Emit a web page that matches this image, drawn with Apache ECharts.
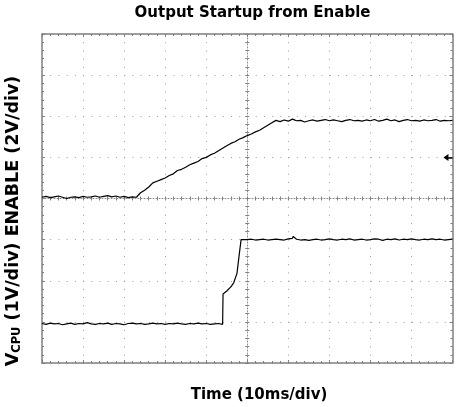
<!DOCTYPE html>
<html>
<head>
<meta charset="utf-8">
<script src="https://cdn.jsdelivr.net/npm/echarts@6/dist/echarts.min.js"></script>
<style>
html,body{margin:0;padding:0;background:#fff;}
#chart{width:458px;height:407px;}
</style>
</head>
<body>
<div id="chart"></div>
<script>
// Units: oscilloscope divisions, centred on the screen (x: -5..5, y: -4..4)
const titleText = 'Output Startup from Enable';
const xTitle = 'Time (10ms/div)';

// Upper trace (slow ramp)
const upperTrace = [
  [-5.0,0.03],[-4.9,0.05],[-4.8,0.02],[-4.7,0.04],[-4.6,0.06],[-4.5,0.03],[-4.4,0.0],[-4.3,0.03],
  [-4.2,0.04],[-4.1,0.02],[-4.0,0.05],[-3.9,0.03],[-3.8,0.04],[-3.7,0.06],[-3.6,0.03],[-3.5,0.05],
  [-3.4,0.07],[-3.3,0.04],[-3.2,0.06],[-3.1,0.03],[-3.0,0.05],[-2.9,0.02],[-2.8,0.04],[-2.7,0.03],
  [-2.6,0.14],[-2.5,0.2],[-2.4,0.28],[-2.3,0.38],[-2.2,0.42],[-2.1,0.46],[-2.0,0.5],[-1.9,0.56],
  [-1.8,0.6],[-1.7,0.68],[-1.6,0.71],[-1.5,0.76],[-1.4,0.82],[-1.3,0.86],[-1.2,0.9],[-1.1,0.97],
  [-1.0,1.0],[-0.9,1.06],[-0.8,1.1],[-0.7,1.16],[-0.6,1.22],[-0.5,1.28],[-0.4,1.34],[-0.3,1.38],
  [-0.2,1.44],[-0.1,1.48],[0.0,1.53],[0.1,1.57],[0.2,1.62],[0.3,1.66],[0.4,1.72],[0.5,1.78],
  [0.6,1.84],[0.7,1.9],[0.8,1.87],[0.9,1.91],[1.0,1.88],[1.1,1.93],[1.2,1.89],[1.3,1.9],
  [1.4,1.86],[1.5,1.89],[1.6,1.91],[1.7,1.88],[1.8,1.9],[1.9,1.92],[2.0,1.89],[2.1,1.91],
  [2.2,1.89],[2.3,1.87],[2.4,1.9],[2.5,1.92],[2.6,1.89],[2.7,1.9],[2.8,1.88],[2.9,1.91],
  [3.0,1.89],[3.1,1.92],[3.2,1.88],[3.3,1.9],[3.4,1.93],[3.5,1.89],[3.6,1.91],[3.7,1.87],
  [3.8,1.9],[3.9,1.92],[4.0,1.89],[4.1,1.9],[4.2,1.88],[4.3,1.91],[4.4,1.89],[4.5,1.9],
  [4.6,1.92],[4.7,1.88],[4.8,1.9],[4.9,1.89],[5.0,1.9]
];

// Lower trace (step)
const lowerTrace = [
  [-5.0,-3.04],[-4.9,-3.06],[-4.8,-3.03],[-4.7,-3.05],[-4.6,-3.04],[-4.5,-3.07],[-4.4,-3.05],[-4.3,-3.03],
  [-4.2,-3.06],[-4.1,-3.04],[-4.0,-3.05],[-3.9,-3.02],[-3.8,-3.05],[-3.7,-3.06],[-3.6,-3.04],[-3.5,-3.05],
  [-3.4,-3.03],[-3.3,-3.06],[-3.2,-3.04],[-3.1,-3.05],[-3.0,-3.07],[-2.9,-3.04],[-2.8,-3.03],[-2.7,-3.05],
  [-2.6,-3.04],[-2.5,-3.06],[-2.4,-3.05],[-2.3,-3.03],[-2.2,-3.05],[-2.1,-3.04],[-2.0,-3.06],[-1.9,-3.04],
  [-1.8,-3.05],[-1.7,-3.03],[-1.6,-3.05],[-1.5,-3.06],[-1.4,-3.04],[-1.3,-3.05],[-1.2,-3.03],[-1.1,-3.05],
  [-1.0,-3.04],[-0.9,-3.06],[-0.8,-3.05],[-0.7,-3.04],[-0.6,-3.06],
  [-0.59,-2.32],[-0.5,-2.25],[-0.4,-2.15],[-0.33,-2.05],[-0.25,-1.82],[-0.2,-1.4],[-0.15,-1.0],[-0.12,-0.96],
  [-0.05,-1.0],[0.0,-1.0],[0.1,-0.99],[0.2,-1.01],[0.3,-1.0],[0.4,-0.99],[0.5,-1.01],[0.6,-1.0],
  [0.7,-0.99],[0.8,-1.0],[0.9,-1.01],[1.0,-0.98],[1.1,-0.97],[1.12,-0.92],[1.2,-0.99],[1.3,-1.01],
  [1.4,-1.0],[1.5,-1.02],[1.6,-1.0],[1.7,-0.99],[1.8,-1.01],[1.9,-1.0],[2.0,-0.98],[2.1,-1.0],
  [2.2,-1.01],[2.3,-0.99],[2.4,-1.0],[2.5,-0.98],[2.6,-1.01],[2.7,-1.0],[2.8,-0.99],[2.9,-1.01],
  [3.0,-1.0],[3.1,-0.98],[3.2,-0.99],[3.3,-1.02],[3.4,-0.99],[3.5,-1.0],[3.6,-0.98],[3.7,-1.01],
  [3.8,-0.99],[3.9,-1.0],[4.0,-0.98],[4.1,-1.0],[4.2,-1.01],[4.3,-0.99],[4.4,-1.0],[4.5,-0.98],
  [4.6,-1.0],[4.7,-0.99],[4.8,-1.01],[4.9,-1.0],[5.0,-0.99]
];

// Level marker on the right edge
const levelMarker = [4.84, 1];
const levelStem = [[4.88, 1], [5, 1]];

const frameColor = '#7f7f7f';
const dotColor = '#9c9c9c';
const fontFamily = 'DejaVu Sans';

function baseX(extra) {
  return Object.assign({
    type: 'value', min: -5, max: 5, interval: 1,
    axisLabel: {show: false},
    splitLine: {show: false},
    axisTick: {show: true, inside: true, length: 3, lineStyle: {color: frameColor, width: 1}},
    minorTick: {show: true, splitNumber: 5, length: 2, lineStyle: {color: frameColor, width: 1}},
    axisLine: {show: true, onZero: false, lineStyle: {color: frameColor, width: 1.5}}
  }, extra);
}
function baseY(extra) {
  return Object.assign({
    type: 'value', min: -4, max: 4, interval: 1,
    axisLabel: {show: false},
    splitLine: {show: false},
    axisTick: {show: true, inside: true, length: 3, lineStyle: {color: frameColor, width: 1}},
    minorTick: {show: true, splitNumber: 5, length: 2, lineStyle: {color: frameColor, width: 1}},
    axisLine: {show: true, onZero: false, lineStyle: {color: frameColor, width: 1.5}}
  }, extra);
}
const gridDots = {show: true, lineStyle: {color: dotColor, width: 1, type: [1, 7.22]}};
const centreLine = {show: true, onZero: true, onZeroAxisIndex: 0, lineStyle: {color: '#8a8a8a', width: 1, type: [1, 2]}};

const chart = echarts.init(document.getElementById('chart'), null, {renderer: 'canvas'});
chart.setOption({
  animation: false,
  backgroundColor: '#ffffff',
  grid: {left: 42, right: 5.5, top: 34, bottom: 44, containLabel: false},
  xAxis: [
    baseX({position: 'bottom', splitLine: gridDots}),
    baseX({position: 'top'}),
    baseX({position: 'bottom', axisLine: centreLine,
      axisTick: {show: true, inside: true, length: 2, lineStyle: {color: frameColor}},
      minorTick: {show: true, splitNumber: 5, length: 2, lineStyle: {color: frameColor}}}),
    baseX({position: 'bottom', axisLine: Object.assign({}, centreLine, {lineStyle: {color: 'rgba(0,0,0,0)'}}),
      axisTick: {show: true, inside: false, length: 2, lineStyle: {color: frameColor}},
      minorTick: {show: true, splitNumber: 5, length: 2, lineStyle: {color: frameColor}}})
  ],
  yAxis: [
    baseY({position: 'left', splitLine: gridDots}),
    baseY({position: 'right'}),
    baseY({position: 'left', axisLine: centreLine,
      axisTick: {show: true, inside: true, length: 2, lineStyle: {color: frameColor}},
      minorTick: {show: true, splitNumber: 5, length: 2, lineStyle: {color: frameColor}}}),
    baseY({position: 'left', axisLine: Object.assign({}, centreLine, {lineStyle: {color: 'rgba(0,0,0,0)'}}),
      axisTick: {show: true, inside: false, length: 2, lineStyle: {color: frameColor}},
      minorTick: {show: true, splitNumber: 5, length: 2, lineStyle: {color: frameColor}}})
  ],
  graphic: [
    {type: 'text', x: 252.5, y: 13, style: {text: titleText, align: 'center', verticalAlign: 'middle',
      font: 'bold 15px "DejaVu Sans"', fill: '#000'}},
    {type: 'text', x: 259, y: 395, style: {text: xTitle, align: 'center', verticalAlign: 'middle',
      font: 'bold 15px "DejaVu Sans"', fill: '#000'}},
    {type: 'text', x: 13, y: 221, rotation: Math.PI / 2, style: {
      text: '{v|V}{s|CPU}{v| (1V/div) ENABLE (2V/div)}', align: 'center', verticalAlign: 'middle',
      rich: {
        v: {fontFamily: fontFamily, fontWeight: 'bold', fontSize: 17.5, lineHeight: 21, verticalAlign: 'middle', fill: '#000'},
        s: {fontFamily: fontFamily, fontWeight: 'bold', fontSize: 11.5, lineHeight: 21, verticalAlign: 'bottom', fill: '#000'}
      }}}
  ],
  series: [
    {type: 'line', data: upperTrace, xAxisIndex: 0, yAxisIndex: 0, showSymbol: false, symbol: 'none',
      lineStyle: {color: '#000', width: 1.2}, silent: true,
      markPoint: {symbol: 'triangle', symbolSize: [7, 5], symbolRotate: 90, silent: true,
        itemStyle: {color: '#000'}, label: {show: false},
        data: [{coord: levelMarker}]},
      markLine: {symbol: 'none', silent: true, label: {show: false},
        lineStyle: {color: '#000', width: 1.5, type: 'solid'},
        data: [[{coord: levelStem[0]}, {coord: levelStem[1]}]]}
    },
    {type: 'line', data: lowerTrace, xAxisIndex: 0, yAxisIndex: 0, showSymbol: false, symbol: 'none',
      lineStyle: {color: '#000', width: 1.2}, silent: true}
  ]
});
</script>
</body>
</html>
